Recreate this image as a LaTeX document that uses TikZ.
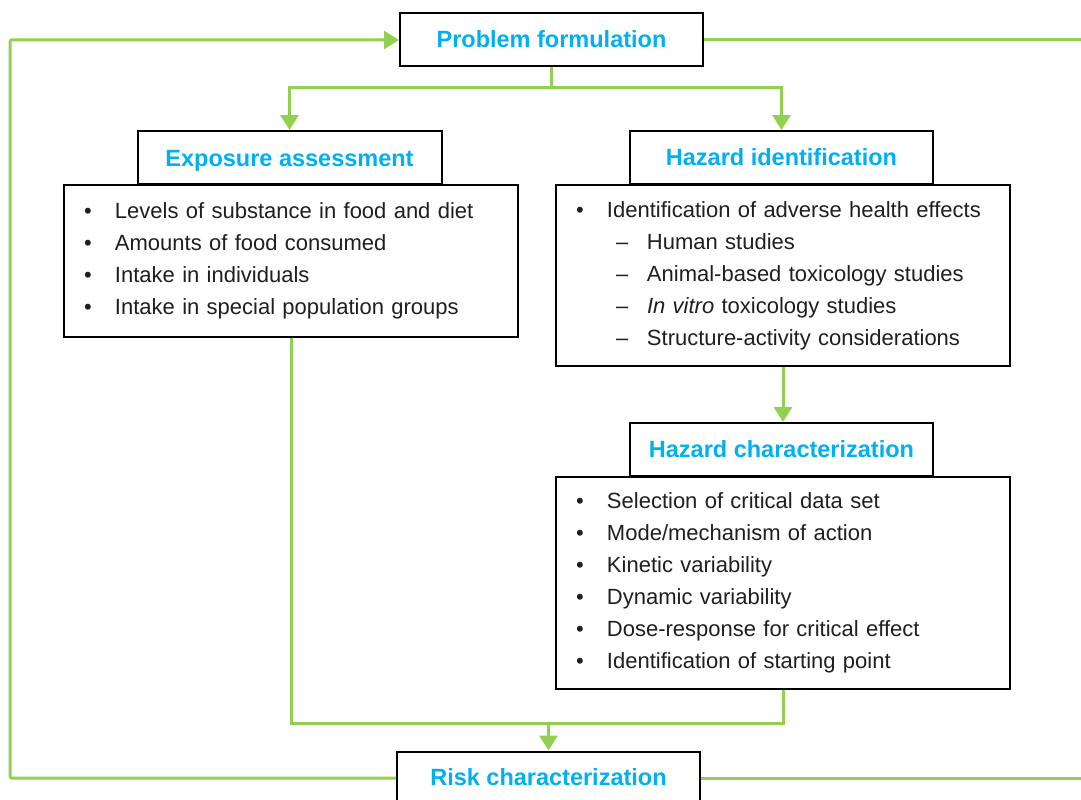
\documentclass[tikz,border=0pt]{standalone}
\usepackage{fontspec}
\setmainfont{Liberation Sans}
\usetikzlibrary{arrows.meta}
\definecolor{lgreen}{HTML}{92D050}
\definecolor{hcyan}{HTML}{00B0F0}
\definecolor{txt}{HTML}{1F1F1F}
\newcommand{\bitem}{\makebox[31pt][l]{\textbullet}}
\newcommand{\ditem}{\hspace*{40pt}\makebox[31pt][l]{–}}
\begin{document}
\begin{tikzpicture}[x=1pt,y=-1pt,
  hdr/.style={draw=black, line width=2pt, fill=white, minimum width=303pt, minimum height=53pt, inner sep=0pt, text=hcyan, text height=17pt, text depth=2pt, font=\fontsize{23.5}{28}\selectfont\bfseries},
  content/.style={draw=black, line width=2pt, fill=white, inner xsep=20pt, inner ysep=0pt, align=left, text=txt, text width=414pt, font=\fontsize{22}{32}\selectfont, anchor=north west},
  conn/.style={draw=lgreen, line width=3pt},
  arr/.style={conn, -{Triangle[length=15pt,width=18pt]}},
]
\useasboundingbox (0,0) rectangle (1081,800);

% boxes
\node[hdr] (pf) at (551.5,40) {Problem formulation};
\node[hdr, minimum width=304pt, text depth=-5pt] (eah) at (289.5,157.5) {Exposure assessment};
\node[content, minimum height=152pt] (eab) at (63,184)
  {\bitem Levels of substance in food and diet\\
   \bitem Amounts of food consumed\\
   \bitem Intake in individuals\\
   \bitem Intake in special population groups};
\node[hdr] (hih) at (781.5,157.5) {Hazard identification};
\node[content, minimum height=181pt] (hib) at (555,184)
  {\bitem Identification of adverse health effects\\
   \ditem Human studies\\
   \ditem Animal-based toxicology studies\\
   \ditem \textit{In vitro} toxicology studies\\
   \ditem Structure-activity considerations};
\node[hdr] (hch) at (781.5,449.5) {Hazard characterization};
\node[content, minimum height=212pt] (hcb) at (555,476)
  {\bitem Selection of critical data set\\
   \bitem Mode/mechanism of action\\
   \bitem Kinetic variability\\
   \bitem Dynamic variability\\
   \bitem Dose-response for critical effect\\
   \bitem Identification of starting point};
\node[hdr] (risk) at (548.5,778) {Risk characterization};

% connectors
\coordinate (split) at (551.5,87);
\coordinate (merge) at (548.5,723);
\coordinate (pfR) at (1081,40);
\coordinate (riskR) at (1081,778);
\coordinate (loopB) at (10,778);
\coordinate (loopT) at (10,40);

\draw[conn] (pf.south) -- (split);
\draw[arr] (split) -| (eah.north);
\draw[arr] (split) -| (hih.north);
\draw[arr] (hib.south) -- (hib.south |- hch.north);
\draw[conn] (eab.south) |- (merge);
\draw[conn] (hcb.south) |- (merge);
\draw[arr] (merge) -- (risk.north);
\draw[arr, rounded corners=2pt] (risk.west) -- (loopB) -- (loopT) -- (pf.west);
\draw[conn] (pf.east) -- (pfR);
\draw[conn] (risk.east) -- (riskR);
\end{tikzpicture}
\end{document}
